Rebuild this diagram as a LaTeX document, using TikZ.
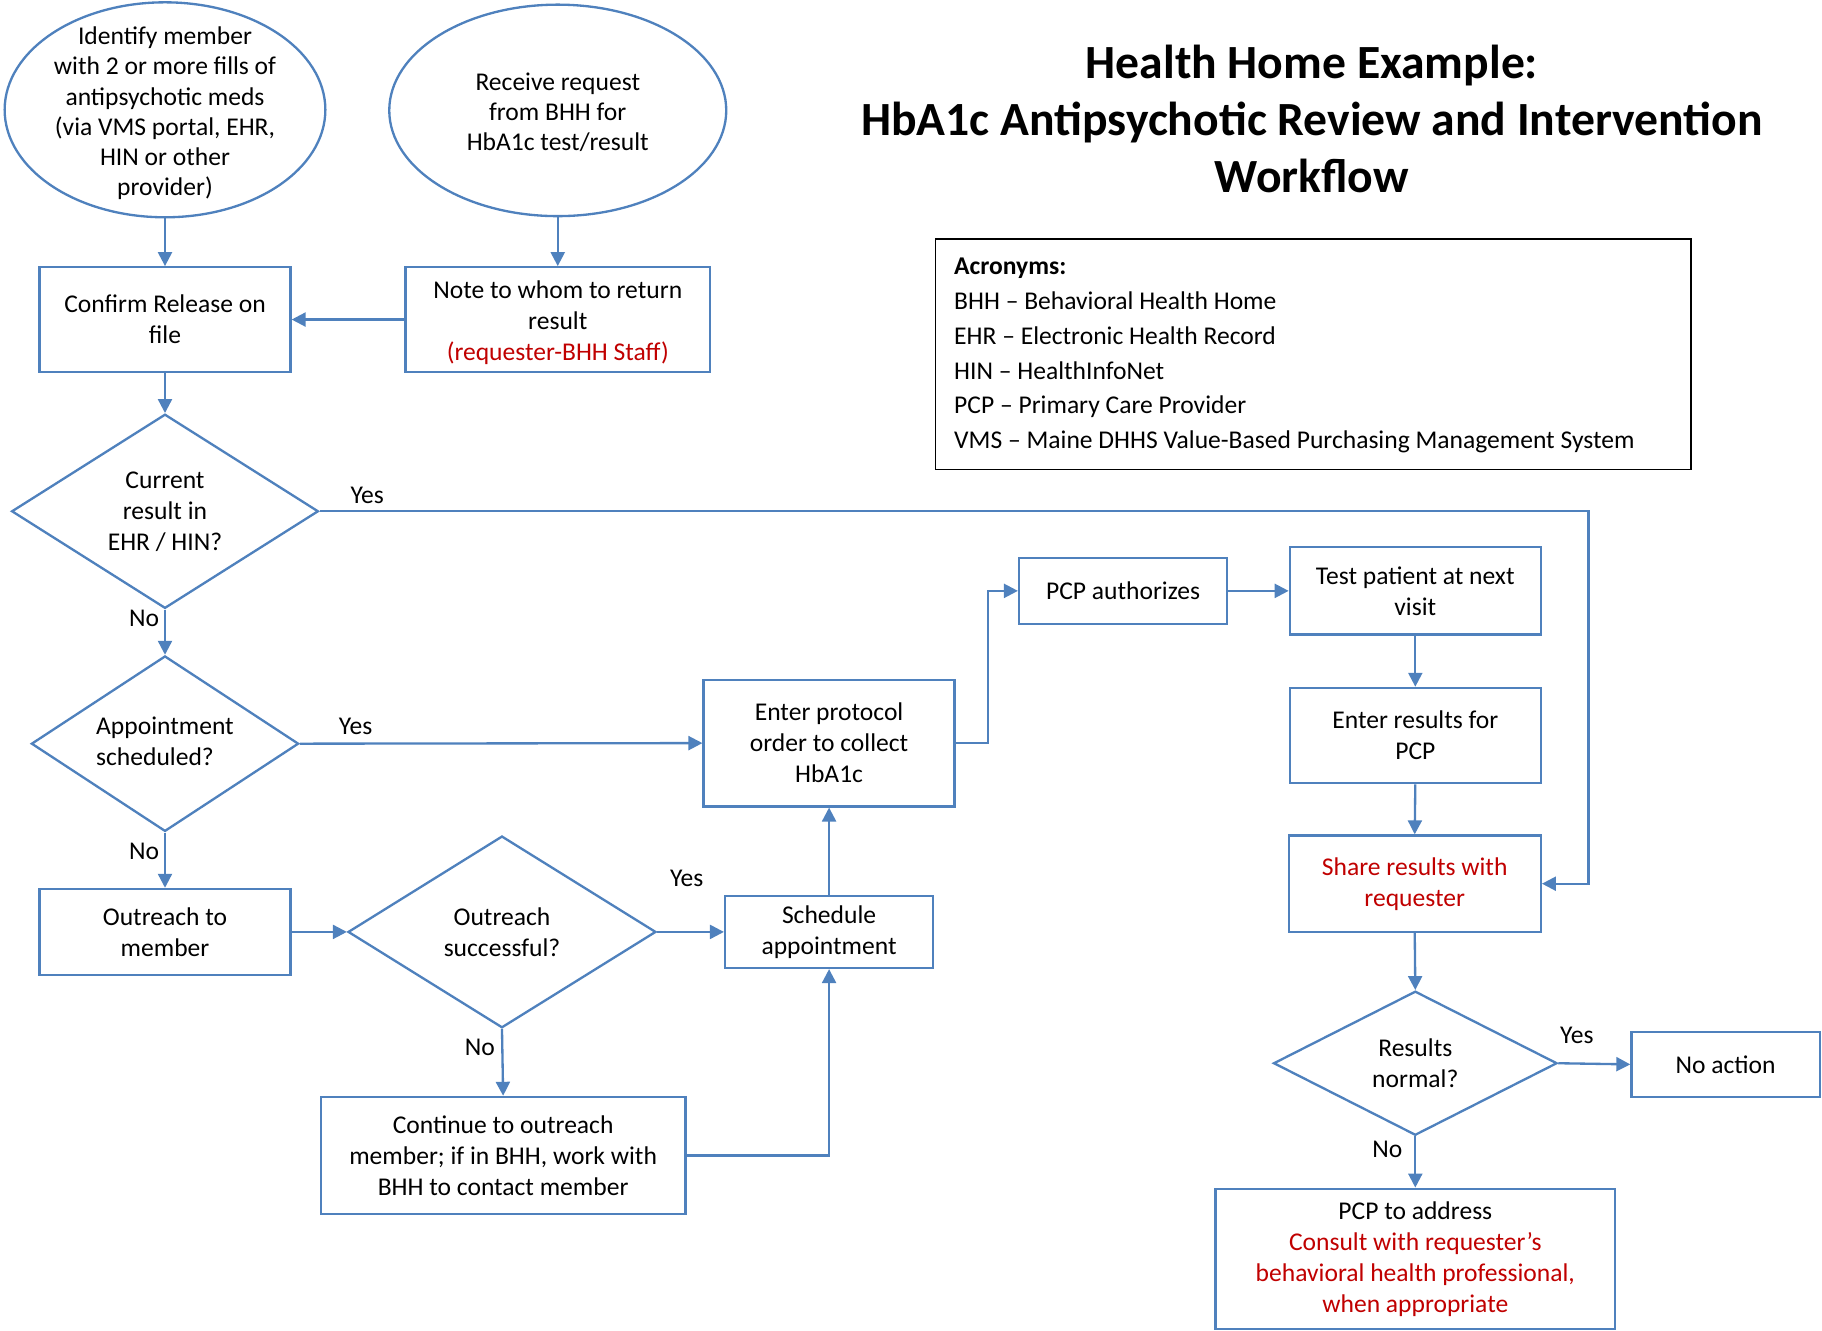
\documentclass[tikz,border=0pt]{standalone}
\usepackage{fontspec}
\setmainfont{Carlito}
\usetikzlibrary{shapes.geometric,arrows.meta}
\definecolor{flowblue}{RGB}{79,129,189}
\definecolor{noteRed}{RGB}{192,0,0}

\begin{document}
\begin{tikzpicture}[x=1pt,y=-1pt,
  every node/.style={font=\fontsize{22}{26.7}\selectfont, inner sep=0pt},
  box/.style={draw=flowblue, line width=2pt, rectangle, align=center},
  oval/.style={draw=flowblue, line width=2pt, ellipse, align=center},
  decision/.style={draw=flowblue, line width=2pt, diamond, align=center},
  flow/.style={draw=flowblue, line width=2pt, -{Triangle[length=12pt,width=12pt]}},
  link/.style={draw=flowblue, line width=2pt},
  lbl/.style={text=black}
]
\useasboundingbox (0,0) rectangle (1568,1145);

% title
\node[font=\bfseries\fontsize{41}{49}\selectfont, align=center] (title) at (1129,102)
  {Health Home Example:\\HbA1c Antipsychotic Review and Intervention\\Workflow};

% acronym legend
\node[draw=black, line width=1.5pt, minimum width=650pt, minimum height=198pt] (acro) at (1130,305) {};
\node[anchor=west, align=left, font=\fontsize{22}{30}\selectfont] (acrotext) at (821,306)
  {\textbf{Acronyms:}\\
   BHH -- Behavioral Health Home\\
   EHR -- Electronic Health Record\\
   HIN -- HealthInfoNet\\
   PCP -- Primary Care Provider\\
   VMS -- Maine DHHS Value-Based Purchasing Management System};

% start points
\node[oval, minimum width=276pt, minimum height=185pt] (identify) at (142,94.5) {};
\node[align=center, font=\fontsize{22}{26}\selectfont] (identifytext) at (142,97.5)
  {Identify member\\with 2 or more fills of\\antipsychotic meds\\(via VMS portal, EHR,\\HIN or other\\provider)};
\node[oval, minimum width=290pt, minimum height=182pt] (receive) at (480,95) {};
\node[align=center, font=\fontsize{22}{26}\selectfont] (receivetext) at (480,96.5)
  {Receive request\\from BHH for\\HbA1c test/result};

% left column
\node[box, minimum width=216pt, minimum height=90pt] (confirm) at (142,275)
  {Confirm Release on\\file};
\node[box, minimum width=262pt, minimum height=90pt] (note) at (480,275) {};
\node[align=center] (notetext) at (480,277.5)
  {Note to whom to return\\result\\\textcolor{noteRed}{(requester-BHH Staff)}};
\node[decision, minimum width=264pt, minimum height=165pt] (current) at (142,440)
  {Current\\result in\\EHR / HIN?};
\node[decision, minimum width=230pt, minimum height=151pt] (appt) at (142,640) {};
\node[align=left] (appttext) at (142,638) {Appointment\\scheduled?};
\node[box, minimum width=216pt, minimum height=74pt] (outreach) at (142,802)
  {Outreach to\\member};

% outreach branch
\node[decision, minimum width=265pt, minimum height=165pt] (success) at (432,802)
  {Outreach\\successful?};
\node[box, minimum width=179pt, minimum height=62pt] (schedule) at (713.5,802)
  {Schedule\\appointment};
\node[box, minimum width=314pt, minimum height=101pt] (continue) at (433,994.5)
  {Continue to outreach\\member; if in BHH, work with\\BHH to contact member};
\node[box, minimum width=216pt, minimum height=109pt] (protocol) at (713.5,639.5)
  {Enter protocol\\order to collect\\HbA1c};

% testing and results
\node[box, minimum width=179pt, minimum height=57pt] (authorize) at (966.5,508.5)
  {PCP authorizes};
\node[box, minimum width=216pt, minimum height=75pt] (test) at (1218,508.5)
  {Test patient at next\\visit};
\node[box, minimum width=216pt, minimum height=82pt] (enter) at (1218,633)
  {Enter results for\\PCP};
\node[box, minimum width=217pt, minimum height=83pt, text=noteRed] (share) at (1217.5,760.5)
  {Share results with\\requester};
\node[decision, minimum width=244pt, minimum height=124pt] (normal) at (1218,915)
  {Results\\normal?};
\node[box, minimum width=162pt, minimum height=56pt] (noaction) at (1485,916)
  {No action};
\node[box, minimum width=344pt, minimum height=121pt] (address) at (1218,1083.5)
  {PCP to address\\\textcolor{noteRed}{Consult with requester’s}\\\textcolor{noteRed}{behavioral health professional,}\\\textcolor{noteRed}{when appropriate}};

% corner points of routed connectors
\coordinate (yesturn) at (1367,440);
\coordinate (prototurn) at (850,639.5);

% connectors
\draw[flow] (identify.south) -- (confirm.north);
\draw[flow] (receive.south) -- (note.north);
\draw[flow] (note.west) -- (confirm.east);
\draw[flow] (confirm.south) -- (current.north);
\draw[flow] (current.south) -- (appt.north);
\draw[flow] (current.east) -- (yesturn) |- (share.east);
\draw[flow] (appt.east) -- (protocol.west);
\draw[flow] (appt.south) -- (outreach.north);
\draw[flow] (outreach.east) -- (success.west);
\draw[flow] (success.east) -- (schedule.west);
\draw[flow] (success.south) -- (continue.north);
\draw[flow] (continue.east) -| (schedule.south);
\draw[flow] (schedule.north) -- (protocol.south);
\draw[flow] (protocol.east) -- (prototurn) |- (authorize.west);
\draw[flow] (authorize.east) -- (test.west);
\draw[flow] (test.south) -- (enter.north);
\draw[flow] (enter.south) -- (share.north);
\draw[flow] (share.south) -- (normal.north);
\draw[flow] (normal.east) -- (noaction.west);
\draw[flow] (normal.south) -- (address.north);

% branch labels
\node[lbl] (l1) at (316,426) {Yes};
\node[lbl] (l2) at (124,532) {No};
\node[lbl] (l3) at (306,625) {Yes};
\node[lbl] (l4) at (124,733) {No};
\node[lbl] (l5) at (591,756) {Yes};
\node[lbl] (l6) at (413,901) {No};
\node[lbl] (l7) at (1357,891) {Yes};
\node[lbl] (l8) at (1194,989) {No};
\end{tikzpicture}
\end{document}
